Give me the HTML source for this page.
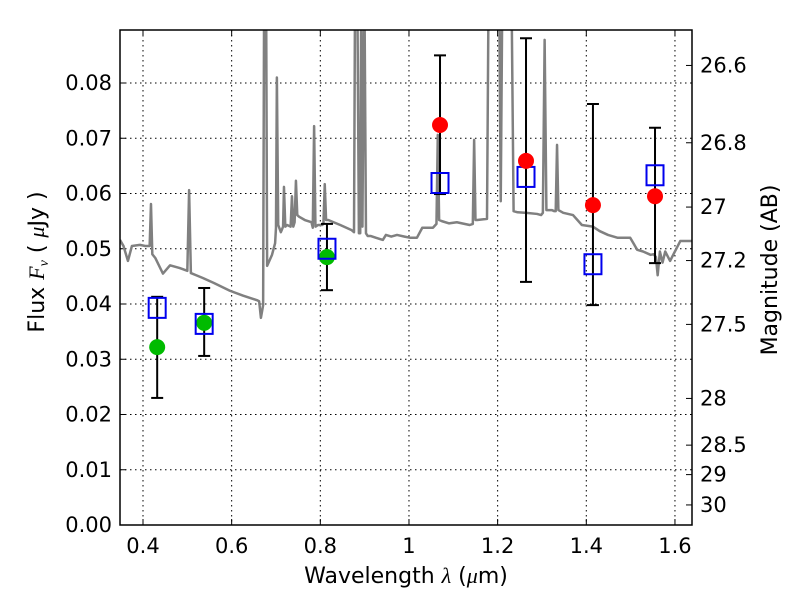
<!DOCTYPE html>
<html><head><meta charset="utf-8"><style>
body{margin:0;background:#fff}
svg text{font-family:"DejaVu Sans","Liberation Sans",sans-serif;}
</style></head><body>
<svg id="c" width="800" height="600" xmlns="http://www.w3.org/2000/svg"></svg>
<script>
const specW=[0.348,0.356,0.366,0.375,0.393,0.405,0.415,0.418,0.421,0.428,0.445,0.461,0.483,0.500,0.504,0.508,0.52,0.535,0.56,0.596,0.626,0.657,0.662,0.666,0.671,0.673,0.678,0.68,0.691,0.698,0.700,0.702,0.705,0.711,0.716,0.718,0.721,0.725,0.733,0.736,0.739,0.742,0.745,0.748,0.752,0.765,0.78,0.783,0.786,0.789,0.795,0.804,0.807,0.81,0.813,0.818,0.83,0.845,0.87,0.876,0.878,0.884,0.887,0.89,0.892,0.895,0.898,0.9,0.903,0.907,0.914,0.925,0.941,0.948,0.96,0.973,0.99,1.002,1.018,1.03,1.054,1.062,1.065,1.068,1.074,1.09,1.108,1.125,1.137,1.144,1.147,1.150,1.154,1.176,1.179,1.183,1.2,1.204,1.207,1.210,1.214,1.232,1.236,1.245,1.265,1.289,1.298,1.302,1.306,1.31,1.322,1.328,1.331,1.334,1.337,1.348,1.37,1.39,1.415,1.43,1.449,1.47,1.492,1.499,1.515,1.528,1.545,1.552,1.557,1.561,1.566,1.572,1.578,1.589,1.612,1.638];
const specF=[0.0516,0.0505,0.0478,0.0505,0.0507,0.0505,0.0505,0.0581,0.049,0.0483,0.0455,0.047,0.0465,0.046,0.0606,0.0456,0.0452,0.0447,0.0438,0.0424,0.0415,0.0407,0.0405,0.0375,0.0398,0.095,0.095,0.0469,0.0489,0.051,0.0538,0.081,0.0543,0.053,0.054,0.0612,0.054,0.0543,0.054,0.0595,0.054,0.0548,0.0623,0.0561,0.0558,0.0552,0.0548,0.0538,0.0722,0.054,0.0543,0.0543,0.0545,0.0617,0.0552,0.0552,0.0548,0.0543,0.0534,0.053,0.095,0.095,0.0528,0.0528,0.095,0.054,0.095,0.095,0.0528,0.0523,0.0523,0.052,0.0516,0.0525,0.0522,0.0525,0.0522,0.052,0.052,0.0538,0.0538,0.0545,0.0706,0.0552,0.055,0.0546,0.0548,0.0545,0.0543,0.0545,0.0697,0.0552,0.0552,0.0554,0.095,0.095,0.095,0.095,0.0586,0.095,0.095,0.095,0.0568,0.0566,0.0565,0.0563,0.0561,0.0565,0.0878,0.057,0.057,0.0568,0.0568,0.0688,0.057,0.0565,0.0561,0.0543,0.054,0.0532,0.0525,0.052,0.052,0.052,0.0498,0.0495,0.0489,0.049,0.0485,0.0452,0.0495,0.0475,0.0495,0.0478,0.0514,0.0514,0.0509];
const greenW=[0.432,0.538,0.815], greenF=[0.0322,0.0366,0.0485];
const redW=[1.07,1.264,1.415,1.555], redF=[0.0724,0.0659,0.0579,0.0595];
const boxW=[0.432,0.538,0.815,1.07,1.264,1.415,1.555], boxF=[0.0393,0.0364,0.05,0.0619,0.063,0.0472,0.0633];
const errW=[0.432,0.538,0.815,1.07,1.264,1.415,1.555];
const errLo=[0.023,0.0306,0.0425,0.0599,0.044,0.0398,0.0474];
const errHi=[0.0413,0.0429,0.0545,0.085,0.0881,0.0762,0.0719];
const xTicks=[0.4,0.6,0.8,1.0,1.2,1.4,1.6], xLabels=["0.4","0.6","0.8","1","1.2","1.4","1.6"];
const yTicks=[0,0.01,0.02,0.03,0.04,0.05,0.06,0.07,0.08];
const magTicks=[26.6,26.8,27,27.2,27.5,28,28.5,29,30];
const L=120,R=692,T=30,B=525;
const X=w=>143+(w-0.4)*443.3;
const Y=f=>Math.max(T-5,B-f*5525);
const svg=document.getElementById('c');const NS="http://www.w3.org/2000/svg";
function mk(t,a,p){const e=document.createElementNS(NS,t);for(const k in a)e.setAttribute(k,a[k]);(p||svg).appendChild(e);return e;}
const clip=mk('clipPath',{id:'cp'});mk('rect',{x:L,y:T,width:R-L,height:B-T},clip);
const grid=mk('g',{});
xTicks.forEach((t,i)=>{const x=X(t);
 mk('line',{x1:x,x2:x,y1:T,y2:B,stroke:'#000','stroke-dasharray':'1.5,3.5','stroke-width':1},grid);
 mk('line',{x1:x,x2:x,y1:B,y2:B-6,stroke:'#000'});mk('line',{x1:x,x2:x,y1:T,y2:T+6,stroke:'#000'});
 const tx=mk('text',{x:x,y:B+28,'font-size':21,'text-anchor':'middle'});tx.textContent=xLabels[i];
 });
yTicks.forEach(t=>{const y=B-t*5525;
 mk('line',{x1:L,x2:R,y1:y,y2:y,stroke:'#000','stroke-dasharray':'1.5,3.5','stroke-width':1},grid);
 mk('line',{x1:L,x2:L+6,y1:y,y2:y,stroke:'#000'});
 const tx=mk('text',{x:L-8,y:y+7,'font-size':21,'text-anchor':'end'});tx.textContent=t.toFixed(2);
 });
magTicks.forEach(m=>{const f=Math.pow(10,(23.9-m)/2.5);const y=B-f*5525;
 mk('line',{x1:R,x2:R-6,y1:y,y2:y,stroke:'#000'});
 const tx=mk('text',{x:R+8,y:y+7,'font-size':21});tx.textContent=String(m);
 });
const g=mk('g',{'clip-path':'url(#cp)'});
const sp=mk('polyline',{points:specW.map((w,i)=>X(w)+','+Y(specF[i])).join(' '),fill:'none',stroke:'#808080','stroke-width':2.5,'stroke-linejoin':'round'},g);

errW.forEach((w,i)=>{const x=X(w),y1=Y(errLo[i]),y2=Y(errHi[i]);
 const e=mk('g',{},g);
 mk('line',{x1:x,x2:x,y1:y1,y2:y2,stroke:'#000','stroke-width':2},e);
 mk('line',{x1:x-6,x2:x+6,y1:y1,y2:y1,stroke:'#000','stroke-width':2},e);
 mk('line',{x1:x-6,x2:x+6,y1:y2,y2:y2,stroke:'#000','stroke-width':2},e);});
greenW.forEach((w,i)=>{const c=mk('circle',{cx:X(w),cy:Y(greenF[i]),r:8,fill:'#00bb00'},g);
 });
boxW.forEach((w,i)=>{const r=mk('rect',{x:X(w)-8.5,y:Y(boxF[i])-10,width:17,height:20,fill:'none',stroke:'#0000ee','stroke-width':2},g);
 });
redW.forEach((w,i)=>{const c=mk('circle',{cx:X(w),cy:Y(redF[i]),r:8,fill:'#ff0000'},g);
 });
const fr=mk('rect',{x:L,y:T,width:R-L,height:B-T,fill:'none',stroke:'#000','stroke-width':1.5});

let t=mk('text',{x:406,y:583,'font-size':22,'text-anchor':'middle'});t.innerHTML='Wavelength  <tspan font-style="italic" font-family="Liberation Serif">λ</tspan> (<tspan font-style="italic" font-family="Liberation Serif">μ</tspan>m)';

t=mk('text',{x:0,y:0,'font-size':22,'text-anchor':'middle',transform:'translate(44,262) rotate(-90)'});t.innerHTML='Flux  <tspan font-style="italic" font-family="Liberation Serif">F<tspan font-size="14" dy="4">ν</tspan></tspan><tspan dy="-4">  ( </tspan><tspan font-style="italic" font-family="Liberation Serif">μ</tspan>Jy )';

t=mk('text',{x:0,y:0,'font-size':22,'text-anchor':'middle',transform:'translate(777,270) rotate(-90)'});t.textContent='Magnitude (AB)';

</script>
</body></html>
